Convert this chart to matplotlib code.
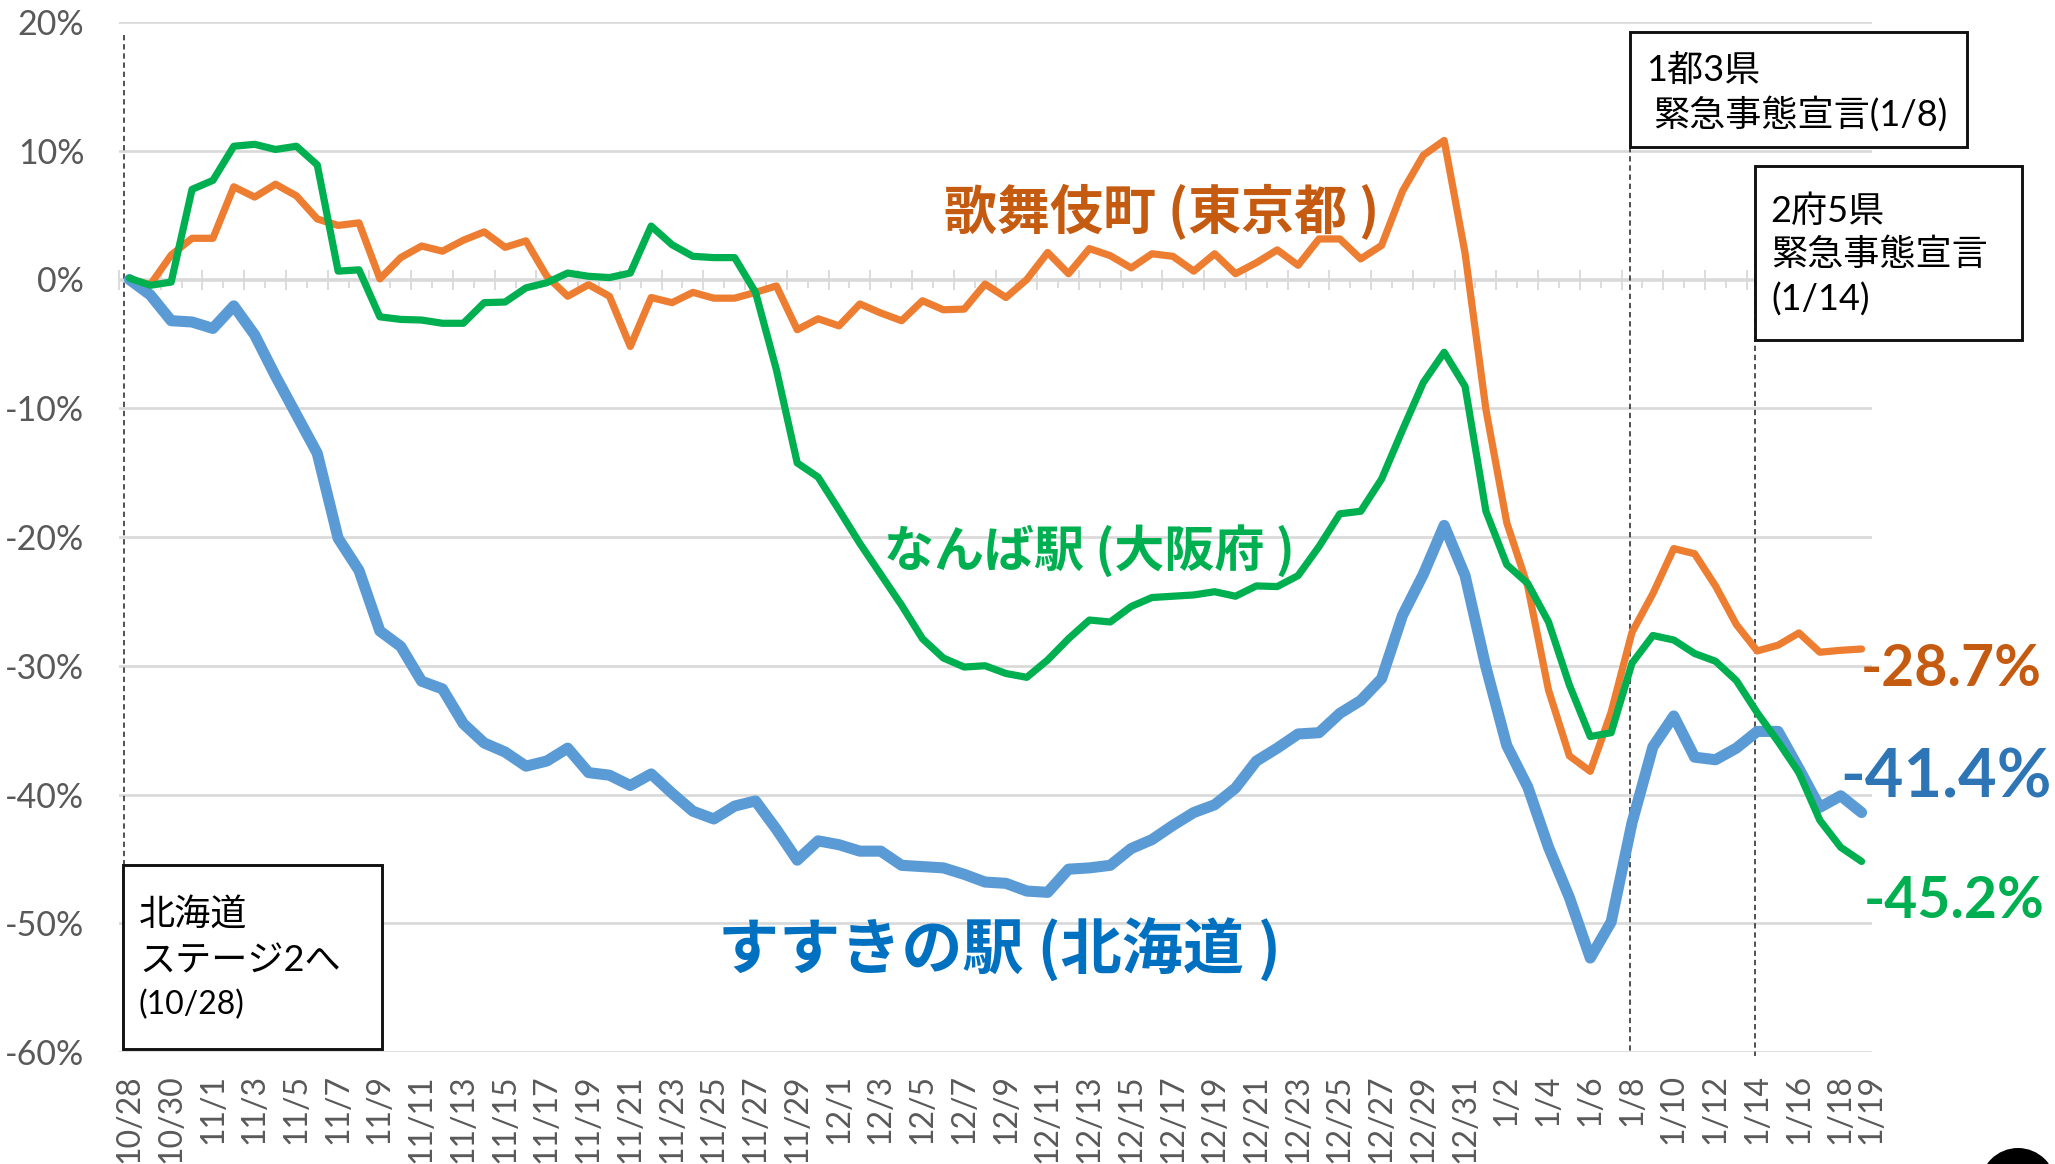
import matplotlib
matplotlib.use("Agg")
import matplotlib.pyplot as plt
from matplotlib.patches import Rectangle, Circle
from matplotlib.ticker import FixedLocator, NullFormatter
from matplotlib.transforms import IdentityTransform, ScaledTranslation

plt.rcParams['font.family'] = ['Lato', 'Noto Sans CJK JP', 'DejaVu Sans']

dates = (['10/28', '10/29', '10/30', '10/31'] +
         [f'11/{d}' for d in range(1, 31)] +
         [f'12/{d}' for d in range(1, 32)] +
         [f'1/{d}' for d in range(1, 20)])

kabukicho = [0, -0.4, 1.9, 3.2, 3.2, 7.2, 6.4, 7.4, 6.5, 4.7, 4.2, 4.4, 0.05, 1.7, 2.6, 2.2, 3.05, 3.7, 2.5, 3.0,
             0.25, -1.3, -0.4, -1.3, -5.2, -1.4, -1.8, -1.0, -1.45, -1.45, -1.0, -0.5, -3.9, -3.05, -3.6, -1.9,
             -2.6, -3.2, -1.65, -2.35, -2.3, -0.35, -1.4, 0, 2.1, 0.45, 2.4, 1.85, 0.9, 2.0, 1.8, 0.65, 2.0, 0.45,
             1.3, 2.3, 1.1, 3.15, 3.15, 1.6, 2.65, 6.85, 9.65, 10.8, 2.05, -10.1, -18.9, -23.8, -31.9, -37.0,
             -38.2, -33.6, -27.4, -24.4, -20.9, -21.3, -23.8, -26.8, -28.85, -28.4, -27.45, -28.95, -28.8, -28.7]

namba = [0.1, -0.45, -0.2, 7.0, 7.7, 10.35, 10.5, 10.1, 10.35, 8.9, 0.65, 0.75, -2.9, -3.1, -3.15, -3.4, -3.4,
         -1.8, -1.75, -0.65, -0.25, 0.5, 0.25, 0.15, 0.5, 4.15, 2.7, 1.8, 1.7, 1.7, -1.0, -7.0, -14.25, -15.35,
         -17.9, -20.5, -22.9, -25.3, -27.9, -29.4, -30.1, -30.0, -30.6, -30.9, -29.55, -27.9, -26.45, -26.6,
         -25.4, -24.7, -24.6, -24.5, -24.25, -24.6, -23.8, -23.85, -23.0, -20.75, -18.2, -18.0, -15.5, -11.7,
         -8.0, -5.65, -8.3, -18.0, -22.15, -23.6, -26.6, -31.5, -35.5, -35.2, -29.8, -27.65, -28.0, -29.05,
         -29.65, -31.15, -33.65, -35.9, -38.3, -42.0, -44.1, -45.2]

susukino = [0, -1.2, -3.2, -3.3, -3.8, -2.05, -4.3, -7.5, -10.5, -13.5, -20.1, -22.6, -27.3, -28.5, -31.2, -31.8,
            -34.5, -36.0, -36.7, -37.8, -37.4, -36.4, -38.3, -38.5, -39.3, -38.4, -39.9, -41.3, -41.9, -40.9,
            -40.5, -42.7, -45.1, -43.6, -43.9, -44.4, -44.4, -45.5, -45.6, -45.7, -46.2, -46.8, -46.9, -47.5,
            -47.6, -45.8, -45.7, -45.5, -44.2, -43.5, -42.4, -41.4, -40.8, -39.5, -37.4, -36.4, -35.3, -35.2,
            -33.7, -32.7, -31.0, -26.1, -22.9, -19.1, -23.0, -30.1, -36.2, -39.4, -44.1, -48.0, -52.7, -49.9,
            -42.2, -36.3, -33.9, -37.1, -37.3, -36.4, -35.1, -35.1, -38.0, -41.0, -40.1, -41.4]

y_ticks = [20, 10, 0, -10, -20, -30, -40, -50, -60]
W, H = 2055, 1164


def fx(px):
    return px / W


def fy(py):
    return 1 - py / H


fig = plt.figure(figsize=(W / 100, H / 100), dpi=100, facecolor='white')
ax = fig.add_axes([fx(119), fy(1052), (1872 - 119) / W, (1052 - 22) / H])
ax.set_xlim(-0.5, 83.5)
ax.set_ylim(-60, 20)
for s in ax.spines.values():
    s.set_visible(False)

x = list(range(len(dates)))
GRID = '#D9D9D9'
ax.set_yticks(y_ticks)
ax.set_yticklabels([f'{v}%' for v in y_ticks], fontsize=24.5, color='#595959')
ax.tick_params(axis='y', length=0, pad=25)
ax.yaxis.grid(True, color=GRID, lw=1.9)
ax.set_axisbelow(True)

label_idx = list(range(0, 83, 2)) + [83]
ax.set_xticks(label_idx)
ax.set_xticklabels([dates[i] for i in label_idx], rotation=90, fontsize=23, color='#595959', va='top', ha='center')
ax.tick_params(axis='x', length=0, pad=16)
last = ax.get_xticklabels()[-1]
last.set_transform(last.get_transform() + ScaledTranslation(0.10, 0, fig.dpi_scale_trans))

# axis line with tick marks at the 0 % level
zero_axis = ax.secondary_xaxis(0.75)
for name in ('top', 'bottom'):
    zero_axis.spines[name].set_color(GRID)
    zero_axis.spines[name].set_linewidth(1.9)
zero_axis.xaxis.set_major_locator(FixedLocator([i - 0.5 for i in range(0, 85, 2)]))
zero_axis.xaxis.set_minor_locator(FixedLocator([i - 0.5 for i in range(1, 85, 2)]))
zero_axis.xaxis.set_major_formatter(NullFormatter())
zero_axis.xaxis.set_minor_formatter(NullFormatter())
zero_axis.tick_params(axis='x', which='both', bottom=True, top=False, labelbottom=False, labeltop=False)
zero_axis.tick_params(axis='x', which='major', direction='inout', length=14.5, width=1.3, color=GRID)
zero_axis.tick_params(axis='x', which='minor', direction='out', length=6, width=1.3, color=GRID)
zero_axis.set_zorder(1)

# event lines
for xv, top, bottom in [(-0.28, 19, -60), (71.9, 10.3, -60), (77.9, 2, -60.3)]:
    ax.plot([xv, xv], [top, bottom], color='#222222', lw=1.1, ls=(0, (3.5, 2.5)), zorder=2, clip_on=False)

ax.plot(x, kabukicho, color='#ED7D31', lw=5.2, solid_joinstyle='round', solid_capstyle='round', zorder=3, clip_on=False)
ax.plot(x, susukino, color='#5B9BD5', lw=8, solid_joinstyle='round', solid_capstyle='round', zorder=4, clip_on=False)
ax.plot(x, namba, color='#00B050', lw=5.2, solid_joinstyle='round', solid_capstyle='round', zorder=5, clip_on=False)


def label(px, py, s, size, color='black', weight='normal', family=None):
    fig.text(fx(px), fy(py), s, fontsize=size, color=color, fontweight=weight, ha='left', va='center', zorder=8,
             family=family or ['Lato', 'Noto Sans CJK JP', 'DejaVu Sans'])


def box(x0, y0, x1, y1):
    fig.add_artist(Rectangle((fx(x0), fy(y1)), (x1 - x0) / W, (y1 - y0) / H, transform=fig.transFigure,
                             facecolor='white', edgecolor='#111111', lw=2.1, zorder=6))


CJK = ['Noto Sans CJK JP', 'DejaVu Sans']
# series names and end values
label(944, 213, '歌舞伎町 (東京都 )', 38.2, '#C55A11', 'bold', CJK)
label(884, 551, 'なんば駅 (大阪府 )', 36, '#00B050', 'bold', CJK)
label(718, 951, 'すすきの駅 (北海道 )', 44, '#0070C0', 'bold', CJK)
label(1861, 670, '-28.7%', 41, '#C55A11', 'bold')
label(1840, 779, '-41.4%', 48, '#2E75B6', 'bold')
label(1864, 902, '-45.2%', 41, '#00B050', 'bold')

# annotation boxes
box(123, 865, 382, 1049)
label(139, 914, '北海道', 26)
label(139, 961, 'ステージ2へ', 26)
label(139, 1005, '(10/28)', 23)

box(1630, 32, 1967, 147)
label(1646, 70, '1都3県', 26)
label(1653, 114, '緊急事態宣言(1/8)', 26)

box(1755, 166, 2022, 340)
label(1770, 211, '2府5県', 26)
label(1771, 254, '緊急事態宣言', 26)
label(1771, 300, '(1/14)', 26)

# corner mark
fig.add_artist(Circle((2018, H - 1186), 38, transform=IdentityTransform(), facecolor='black', edgecolor='none', zorder=9))

fig.savefig('out.png', dpi=100, facecolor='white')
